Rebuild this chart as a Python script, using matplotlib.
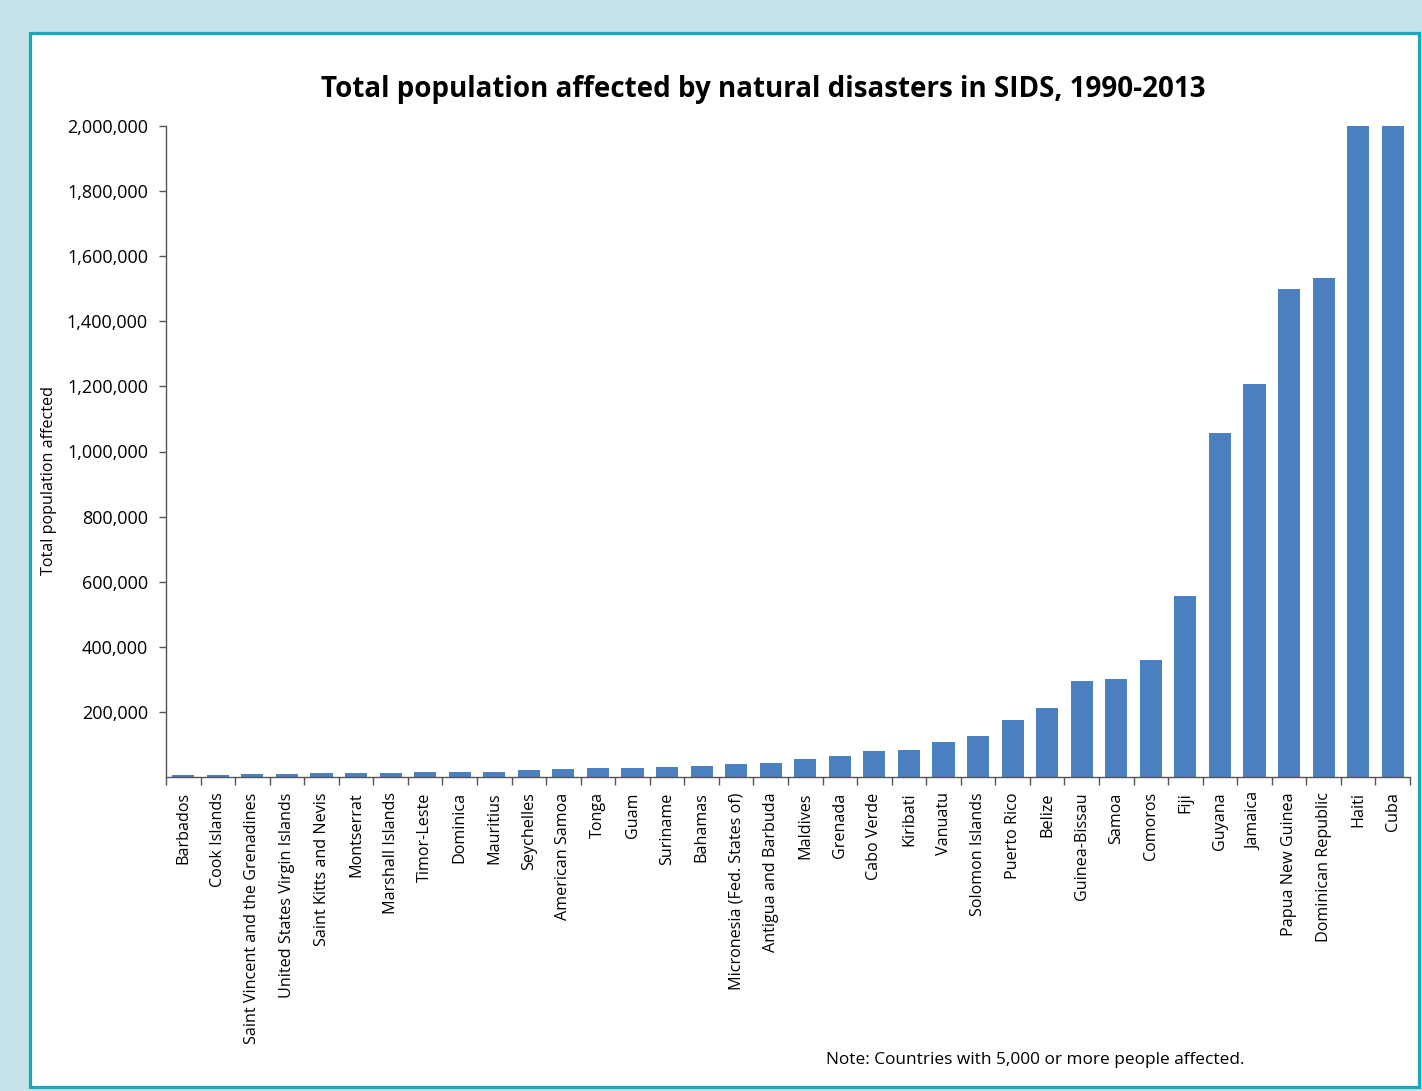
import matplotlib.pyplot as plt
from matplotlib.patches import Rectangle
from matplotlib.ticker import FuncFormatter

plt.rcParams['font.family'] = ['Open Sans', 'DejaVu Sans']

countries = [
    "Barbados", "Cook Islands", "Saint Vincent and the Grenadines",
    "United States Virgin Islands", "Saint Kitts and Nevis", "Montserrat",
    "Marshall Islands", "Timor-Leste", "Dominica", "Mauritius", "Seychelles",
    "American Samoa", "Tonga", "Guam", "Suriname", "Bahamas",
    "Micronesia (Fed. States of)", "Antigua and Barbuda", "Maldives", "Grenada",
    "Cabo Verde", "Kiribati", "Vanuatu", "Solomon Islands", "Puerto Rico",
    "Belize", "Guinea-Bissau", "Samoa", "Comoros", "Fiji", "Guyana", "Jamaica",
    "Papua New Guinea", "Dominican Republic", "Haiti", "Cuba",
]
affected = [
    6000, 5300, 9200, 9200, 12300, 12300, 12300, 15400, 15400, 15400, 21500,
    24600, 27600, 27000, 30000, 33000, 39000, 42000, 54000, 64000, 79000,
    82000, 107000, 125000, 174000, 211000, 294000, 301000, 359000, 556000,
    1057000, 1207000, 1499000, 1533000, 2000000, 2000000,
]
y_ticks = list(range(200000, 2000001, 200000))

fig = plt.figure(figsize=(14.22, 10.91), dpi=100)
fig.patch.set_facecolor("#c6e2ea")

# white panel with teal border
W, H = 1422, 1091
fig.add_artist(Rectangle((30 / W, 1 - 1087 / H), (1419 - 30) / W, (1087 - 33) / H,
                         transform=fig.transFigure, facecolor="white",
                         edgecolor="#1aa9b9", linewidth=2.3, zorder=0))

ax = fig.add_axes([166 / W, 1 - 777 / H, (1410 - 166) / W, (777 - 126) / H])
ax.set_facecolor("none")

x = list(range(len(countries)))
ax.bar(x, affected, width=0.64, color="#4a7fc0", zorder=2)

ax.set_xlim(-0.5, len(countries) - 0.5)
ax.set_ylim(0, 2000000)
ax.set_yticks(y_ticks)
ax.yaxis.set_major_formatter(FuncFormatter(lambda v, p: f"{int(v):,}"))
ax.set_xticks(x)
ax.set_xticklabels(countries, rotation=90, fontsize=11.6)
ax.set_xticks([i - 0.5 for i in range(len(countries) + 1)], minor=True)
ax.tick_params(axis="x", which="major", length=0, pad=11)
ax.tick_params(axis="x", which="minor", length=6, width=1, color="#555555")
ax.tick_params(axis="y", length=5, width=1, color="#555555", labelsize=13, pad=8)

for side in ["top", "right"]:
    ax.spines[side].set_visible(False)
for side in ["left", "bottom"]:
    ax.spines[side].set_color("#555555")
    ax.spines[side].set_linewidth(1)

ax.set_ylabel("Total population affected", fontsize=11.6)
ax.yaxis.set_label_coords(-0.088, 0.456)

fig.text(763 / W, 1 - 90 / H, "Total population affected by natural disasters in SIDS, 1990-2013",
         ha="center", va="center", fontsize=20, fontweight="bold")
fig.text(1245 / W, 1 - 1060 / H, "Note: Countries with 5,000 or more people affected.",
         ha="right", va="center", fontsize=12.4)

fig.savefig("out.png", dpi=100, facecolor=fig.get_facecolor())
